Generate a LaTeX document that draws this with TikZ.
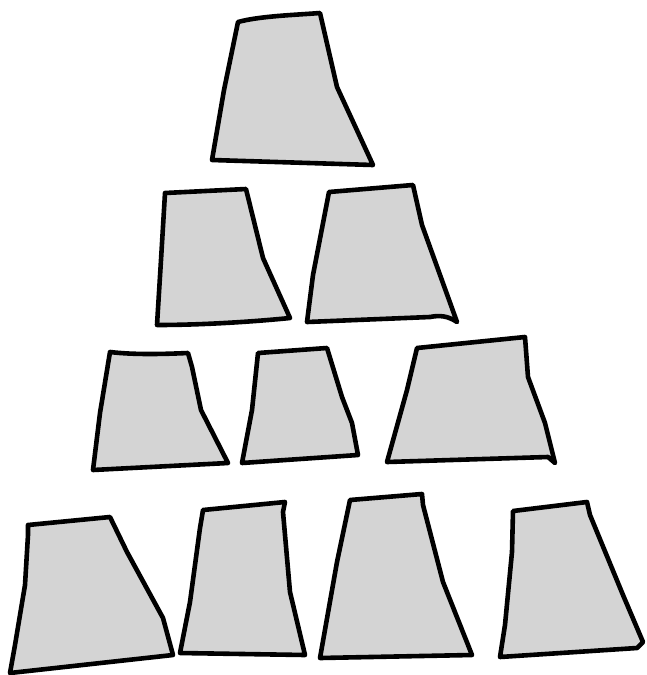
\documentclass[tikz,border=0pt]{standalone}
\definecolor{cupfill}{HTML}{D4D4D4}
\tikzset{cup/.style={draw=black, fill=cupfill, line width=4.6pt, line join=round, line cap=round}}
\begin{document}
\begin{tikzpicture}[x=1pt,y=-1pt]
\useasboundingbox (0,0) rectangle (647,675);
% row 1
\draw[cup] (238,22) .. controls (260,16) and (295,15) .. (320,13) -- (337,87) -- (373,165) -- (212,160) -- (224,90) -- cycle;
% row 2
\draw[cup] (165,193) -- (246,189) -- (263,258) -- (290,318) .. controls (250,322) and (200,325) .. (157,325) -- (161,260) -- cycle;
\draw[cup] (329,192) -- (413,185) -- (422,225) -- (457,322) .. controls (448,316) and (440,315) .. (430,317) -- (307,322) -- (313,275) -- cycle;
% row 3
\draw[cup] (110,352) .. controls (135,355) and (165,354) .. (188,353) -- (192,367) -- (201,410) -- (228,463) -- (93,470) -- (100,413) -- cycle;
\draw[cup] (258,353) -- (327,348) -- (342,397) -- (352,423) -- (358,455) -- (242,463) -- (252,410) -- cycle;
\draw[cup] (417,348) -- (525,337) -- (528,377) -- (545,423) -- (555,463) -- (548,457) -- (387,462) -- (407,390) -- cycle;
% row 4
\draw[cup] (28,525) -- (110,517) -- (127,552) -- (163,618) -- (173,655) -- (10,673) -- (15,645) -- (25,585) -- (28,535) -- cycle;
\draw[cup] (203,510) -- (285,502) -- (283,512) -- (290,592) -- (305,655) -- (180,653) -- (190,602) -- (200,528) -- cycle;
\draw[cup] (350,500) -- (422,494) -- (423,505) -- (443,582) -- (472,655) -- (320,658) -- (337,562) -- cycle;
\draw[cup] (513,511) -- (587,502) -- (590,515) -- (623,595) -- (643,642) -- (637,648) -- (500,657) -- (505,625) -- (512,552) -- cycle;
\end{tikzpicture}
\end{document}
